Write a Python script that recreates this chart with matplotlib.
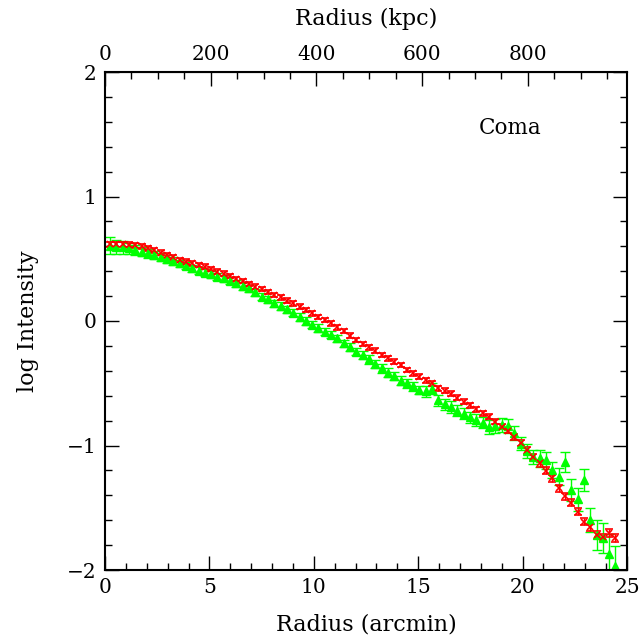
import matplotlib
matplotlib.use("Agg")
import matplotlib.pyplot as plt
from matplotlib.ticker import MultipleLocator, FixedLocator

plt.rcParams['font.family'] = ['DejaVu Serif']

# radius bins (arcmin)
radius = [0.24, 0.54, 0.85, 1.15, 1.45, 1.75, 2.06, 2.36, 2.66, 2.96,
          3.27, 3.57, 3.87, 4.17, 4.48, 4.78, 5.08, 5.38, 5.69, 5.99,
          6.29, 6.59, 6.90, 7.20, 7.50, 7.80, 8.11, 8.41, 8.71, 9.01,
          9.32, 9.62, 9.92, 10.22, 10.53, 10.83, 11.13, 11.43, 11.74, 12.04,
          12.34, 12.64, 12.95, 13.25, 13.55, 13.85, 14.16, 14.46, 14.76, 15.06,
          15.37, 15.67, 15.97, 16.27, 16.58, 16.88, 17.18, 17.48, 17.79, 18.09,
          18.39, 18.69, 19.00, 19.30, 19.60, 19.90, 20.21, 20.51, 20.81, 21.11,
          21.42, 21.72, 22.02, 22.32, 22.63, 22.93, 23.23, 23.54, 23.84, 24.14,
          24.44]

# red profile
red_y = [0.616, 0.616, 0.616, 0.613, 0.608, 0.600, 0.584, 0.570, 0.549, 0.530,
         0.511, 0.490, 0.476, 0.463, 0.450, 0.436, 0.418, 0.396, 0.380, 0.362,
         0.337, 0.321, 0.297, 0.276, 0.255, 0.231, 0.209, 0.190, 0.163, 0.142,
         0.115, 0.090, 0.062, 0.034, 0.008, -0.019, -0.051, -0.080, -0.118, -0.153,
         -0.185, -0.211, -0.238, -0.273, -0.300, -0.327, -0.353, -0.393, -0.420, -0.447,
         -0.474, -0.500, -0.540, -0.560, -0.586, -0.617, -0.648, -0.675, -0.709, -0.741,
         -0.769, -0.809, -0.849, -0.880, -0.929, -0.977, -1.040, -1.090, -1.143, -1.202,
         -1.263, -1.344, -1.406, -1.459, -1.532, -1.612, -1.657, -1.719, -1.737, -1.705,
         -1.745]
red_err = [0.020, 0.020, 0.020, 0.020, 0.020, 0.020, 0.020, 0.020, 0.020, 0.020,
           0.018, 0.018, 0.018, 0.018, 0.018, 0.018, 0.018, 0.018, 0.018, 0.018,
           0.018, 0.018, 0.018, 0.018, 0.018, 0.018, 0.018, 0.018, 0.018, 0.018,
           0.018, 0.018, 0.018, 0.018, 0.018, 0.018, 0.018, 0.018, 0.018, 0.018,
           0.018, 0.018, 0.018, 0.018, 0.018, 0.018, 0.018, 0.018, 0.018, 0.018,
           0.020, 0.020, 0.020, 0.020, 0.020, 0.020, 0.020, 0.020, 0.020, 0.020,
           0.022, 0.022, 0.022, 0.022, 0.024, 0.024, 0.025, 0.025, 0.026, 0.026,
           0.027, 0.027, 0.028, 0.028, 0.028, 0.029, 0.029, 0.030, 0.030, 0.032,
           0.032]

# green profile
green_y = [0.605, 0.597, 0.592, 0.584, 0.570, 0.557, 0.544, 0.530, 0.516, 0.498,
           0.482, 0.463, 0.444, 0.423, 0.404, 0.388, 0.375, 0.356, 0.343, 0.324,
           0.303, 0.281, 0.263, 0.231, 0.195, 0.174, 0.142, 0.120, 0.094, 0.067,
           0.034, 0.000, -0.030, -0.055, -0.086, -0.110, -0.139, -0.180, -0.210, -0.247,
           -0.273, -0.308, -0.345, -0.380, -0.415, -0.442, -0.480, -0.500, -0.525, -0.554,
           -0.565, -0.545, -0.637, -0.668, -0.690, -0.720, -0.743, -0.775, -0.795, -0.817,
           -0.850, -0.845, -0.838, -0.845, -0.900, -0.985, -1.045, -1.090, -1.103, -1.117,
           -1.197, -1.250, -1.130, -1.357, -1.432, -1.277, -1.598, -1.719, -1.740, -1.874,
           -1.970]
green_err = [0.070, 0.055, 0.050, 0.045, 0.040, 0.038, 0.035, 0.033, 0.032, 0.030,
             0.030, 0.030, 0.030, 0.030, 0.030, 0.030, 0.030, 0.030, 0.030, 0.030,
             0.030, 0.030, 0.030, 0.030, 0.030, 0.030, 0.030, 0.030, 0.030, 0.030,
             0.030, 0.030, 0.030, 0.030, 0.030, 0.030, 0.030, 0.030, 0.030, 0.030,
             0.035, 0.035, 0.035, 0.035, 0.035, 0.035, 0.035, 0.035, 0.035, 0.035,
             0.045, 0.045, 0.045, 0.045, 0.045, 0.045, 0.045, 0.045, 0.045, 0.045,
             0.055, 0.055, 0.055, 0.055, 0.055, 0.055, 0.055, 0.055, 0.068, 0.068,
             0.068, 0.068, 0.080, 0.087, 0.094, 0.087, 0.094, 0.120, 0.120, 0.160,
             0.160]

kpc_ticks = [0, 200, 400, 600, 800]
kpc_per_arcmin = 39.5

fig = plt.figure(figsize=(6.39, 6.44), dpi=100)
ax = fig.add_axes([105 / 639, 74 / 644, 522 / 639, 498 / 644])

ax.errorbar(radius, green_y, yerr=green_err, fmt='^', color='#00ff00', ms=5.5,
            elinewidth=1, capsize=3.5, capthick=1)
ax.errorbar(radius, red_y, yerr=red_err, fmt='x', color='red', ms=4, mew=1.2,
            elinewidth=1, capsize=3, capthick=1.2)

ax.set_xlim(0, 25)
ax.set_ylim(-2, 2)
ax.xaxis.set_major_locator(MultipleLocator(5))
ax.xaxis.set_minor_locator(MultipleLocator(1))
ax.yaxis.set_major_locator(MultipleLocator(1))
ax.yaxis.set_minor_locator(MultipleLocator(0.2))
ax.tick_params(which='both', direction='in', right=True, top=False, width=1,
               labelsize=14.5, pad=6)
ax.tick_params(which='major', length=10)
ax.tick_params(which='minor', length=5)
for s in ax.spines.values():
    s.set_linewidth(1.5)

ax.set_xlabel("Radius (arcmin)", fontsize=16, labelpad=12)
ax.set_ylabel("log Intensity", fontsize=16, labelpad=20)

top = ax.secondary_xaxis('top', functions=(lambda r: r * kpc_per_arcmin,
                                           lambda k: k / kpc_per_arcmin))
top.xaxis.set_major_locator(FixedLocator(kpc_ticks))
top.xaxis.set_minor_locator(FixedLocator(list(range(0, 951, 50))))
top.tick_params(which='both', direction='in', width=1, labelsize=14.5, pad=6)
top.tick_params(which='major', length=10)
top.tick_params(which='minor', length=5)
top.set_xlabel("Radius (kpc)", fontsize=16, labelpad=14)

ax.text(17.9, 1.55, "Coma", fontsize=15.5, va='center')

fig.savefig("out.png", dpi=100)
